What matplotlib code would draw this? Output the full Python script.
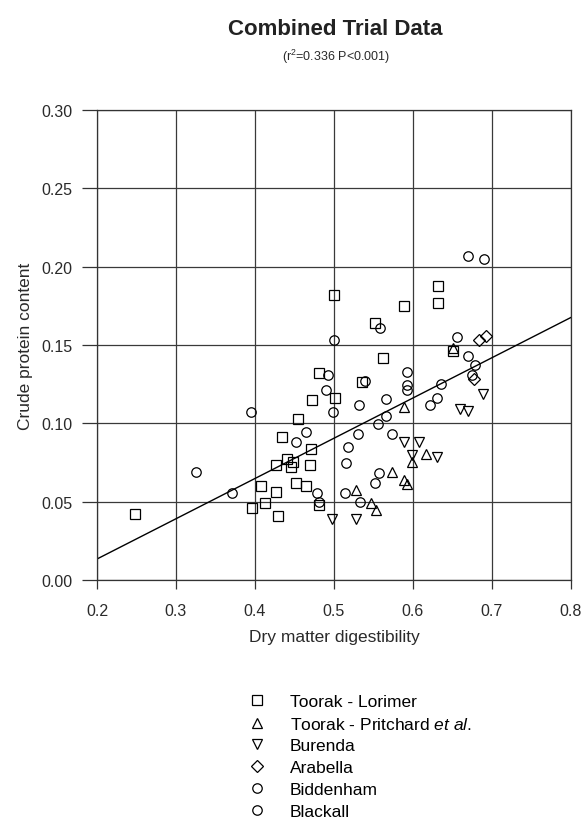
import matplotlib
matplotlib.use("Agg")
import matplotlib.pyplot as plt
import numpy as np

plt.rcParams['font.family'] = ['Liberation Sans', 'DejaVu Sans']
plt.rcParams['mathtext.fontset'] = 'custom'
plt.rcParams['mathtext.rm'] = 'Liberation Sans'
plt.rcParams['mathtext.it'] = 'Liberation Sans:italic'

# ---- data ----
lorimer_x = [0.248, 0.396, 0.413, 0.429, 0.407, 0.427, 0.426, 0.434, 0.441, 0.448,
             0.445, 0.455, 0.471, 0.470, 0.452, 0.465, 0.481, 0.4725, 0.5016, 0.481,
             0.536, 0.5625, 0.552, 0.589, 0.632, 0.632, 0.500, 0.651]
lorimer_y = [0.042, 0.046, 0.049, 0.041, 0.060, 0.056, 0.0736, 0.0915, 0.077, 0.0755,
             0.072, 0.103, 0.0838, 0.0736, 0.062, 0.060, 0.048, 0.115, 0.1164, 0.132,
             0.1265, 0.142, 0.1638, 0.1747, 0.1875, 0.177, 0.1817, 0.146]

pritchard_x = [0.588, 0.617, 0.599, 0.574, 0.588, 0.593, 0.528, 0.547, 0.553, 0.651]
pritchard_y = [0.1107, 0.0806, 0.0755, 0.069, 0.064, 0.061, 0.0576, 0.049, 0.0445, 0.148]

burenda_x = [0.498, 0.528, 0.588, 0.608, 0.599, 0.630, 0.659, 0.669, 0.688]
burenda_y = [0.039, 0.039, 0.0883, 0.0883, 0.080, 0.0787, 0.109, 0.108, 0.119]

arabella_x = [0.683, 0.693, 0.677]
arabella_y = [0.153, 0.156, 0.128]

biddenham_x = [0.325, 0.371, 0.395, 0.452, 0.465, 0.479, 0.481, 0.4928, 0.490, 0.499,
               0.5004, 0.514, 0.5156, 0.518, 0.531, 0.532, 0.533, 0.552]
biddenham_y = [0.069, 0.0557, 0.107, 0.088, 0.0947, 0.0557, 0.050, 0.131, 0.1215, 0.1075,
               0.153, 0.0557, 0.075, 0.085, 0.0934, 0.112, 0.050, 0.062]

blackall_x = [0.557, 0.556, 0.566, 0.566, 0.5735, 0.5587, 0.593, 0.593, 0.593, 0.621,
              0.631, 0.635, 0.656, 0.669, 0.6905, 0.670, 0.679, 0.675, 0.539]
blackall_y = [0.0685, 0.0995, 0.1045, 0.1158, 0.0934, 0.161, 0.1325, 0.1245, 0.121, 0.112,
              0.1164, 0.125, 0.155, 0.207, 0.205, 0.1427, 0.1375, 0.131, 0.127]

# regression line coefficients
reg_intercept = -0.038
reg_slope = 0.257

xticks = [0.2, 0.3, 0.4, 0.5, 0.6, 0.7, 0.8]
yticks = [0.00, 0.05, 0.10, 0.15, 0.20, 0.25, 0.30]

# ---- figure ----
fig = plt.figure(figsize=(5.82, 8.2), dpi=100)
ax = fig.add_axes([97/582, 1-581/820, (571-97)/582, (581-111)/820])

ms = 6.8
common = dict(linestyle='none', markerfacecolor='none', markeredgecolor='black',
              markeredgewidth=0.9, markersize=ms, zorder=3)
h1, = ax.plot(lorimer_x, lorimer_y, marker='s', label='Toorak - Lorimer', **common)
h2, = ax.plot(pritchard_x, pritchard_y, marker='^', label='Toorak - Pritchard $\\it{et\\ al.}$', **common)
h3, = ax.plot(burenda_x, burenda_y, marker='v', label='Burenda', **common)
h4, = ax.plot(arabella_x, arabella_y, marker='D', label='Arabella',
              **{**common, 'markersize': ms - 0.8})
h5, = ax.plot(biddenham_x, biddenham_y, marker='o', label='Biddenham', **common)
h6, = ax.plot(blackall_x, blackall_y, marker='o', label='Blackall', **common)

lx = np.array([0.2, 0.8])
ax.plot(lx, reg_intercept + reg_slope * lx, color='black', linewidth=1.0, zorder=2)

ax.set_xlim(0.2, 0.8)
ax.set_ylim(0.0, 0.30)
ax.set_xticks(xticks)
ax.set_xticklabels([f"{t:.1f}" for t in xticks])
ax.set_yticks(yticks)
ax.set_yticklabels([f"{t:.2f}" for t in yticks])
ax.grid(True, color='#3a3a3a', linewidth=0.9)
ax.set_axisbelow(True)
for s in ax.spines.values():
    s.set_color('#333333')
    s.set_linewidth(0.9)
ax.tick_params(axis='x', direction='out', length=6.5, width=0.9, color='#333333',
               labelsize=11.5, labelcolor='#2a2a2a', pad=10)
ax.tick_params(axis='y', direction='out', length=10.5, width=0.9, color='#333333',
               labelsize=11.5, labelcolor='#2a2a2a', pad=7)

ax.set_xlabel('Dry matter digestibility', fontsize=12.5, color='#2a2a2a', labelpad=8)
ax.set_ylabel('Crude protein content', fontsize=12.5, color='#2a2a2a', labelpad=6)

fig.text(335.5/582, 1-35/820, 'Combined Trial Data', ha='center', va='baseline',
         fontsize=16, fontweight='bold', color='#222222')
fig.text(336/582, 1-61/820, '(r$^2$=0.336 P<0.001)', ha='center', va='baseline',
         fontsize=9, color='#2a2a2a')

fig.legend(handles=[h1, h2, h3, h4, h5, h6], loc='upper left',
           bbox_to_anchor=(248/582, 1-695/820), frameon=False, fontsize=12.5,
           handletextpad=1.4, labelspacing=0.38, markerscale=1.0,
           handlelength=1.0, borderaxespad=0, borderpad=0)

fig.savefig('out.png', dpi=100)
